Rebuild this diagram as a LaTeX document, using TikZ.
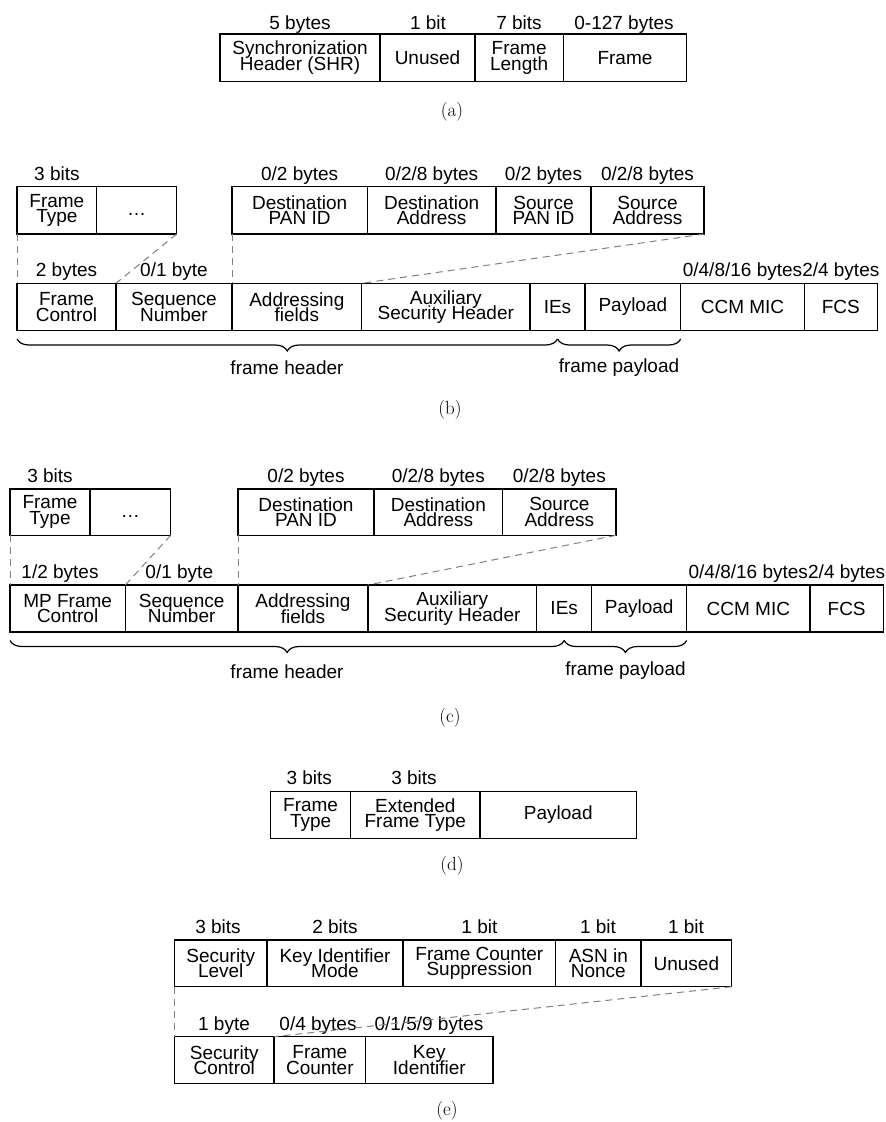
\documentclass[tikz,border=0pt]{standalone}
\usepackage{fontspec}
\newfontfamily\hv{Liberation Sans}
\usetikzlibrary{decorations.pathreplacing}
\newcommand{\tightlines}{\lineskiplimit=-40pt\relax\lineskip=0pt\relax}
\newcommand{\fieldnode}[6]{%
  \node[fld, minimum width={(#3-#2)*1pt}, minimum height={(#5-#4)*1pt}] (#1) at ({(#2+#3)/2},{(#4+#5)/2}) {#6};}
\begin{document}
\begin{tikzpicture}[x=1pt,y=-1pt,
  fld/.style={draw=black, line width=1.2pt, inner sep=0pt, outer sep=0pt, align=center, font=\hv\fontsize{19}{15.5}\selectfont\tightlines},
  lbl/.style={anchor=base, inner sep=0pt, font=\hv\fontsize{19}{15.5}\selectfont},
  zoomline/.style={draw=black!50, line width=1pt, dash pattern=on 7pt off 5pt},
  brc/.style={decorate, decoration={brace, mirror, amplitude=12pt}, line width=1.2pt},
  sub/.style={inner sep=0pt, font=\hv\fontsize{19}{15.5}\selectfont},
  capt/.style={inner sep=0pt, font=\fontsize{19}{22}\selectfont}]
\useasboundingbox (0,0) rectangle (886,1122);

% ---------------- (a)
\fieldnode{a1}{220}{380}{34}{81.5}{Synchronization\\Header (SHR)}
\fieldnode{a2}{380}{475}{34}{81.5}{Unused}
\fieldnode{a3}{475}{563.3}{34}{81.5}{Frame\\Length}
\fieldnode{a4}{563.3}{686.7}{34}{81.5}{Frame}
\node[lbl] (la1) at (300,29) {5 bytes};
\node[lbl] (la2) at (428,29) {1 bit};
\node[lbl] (la3) at (519,29) {7 bits};
\node[lbl] (la4) at (624,29) {0-127 bytes};
\node[capt] (capa) at (452,112) {(a)};

% ---------------- (b)
\fieldnode{bft}{17}{96.7}{186.7}{234}{Frame\\Type}
\fieldnode{bdots}{96.7}{176.7}{186.7}{234}{\vphantom{(}…}
\fieldnode{bdpan}{232}{367.3}{186.7}{234}{Destination\\PAN ID}
\fieldnode{bdadr}{367.3}{496}{186.7}{234}{Destination\\Address}
\fieldnode{bspan}{496}{591}{186.7}{234}{Source\\PAN ID}
\fieldnode{bsadr}{591}{704}{186.7}{234}{Source\\Address}
\node[lbl] (lb1) at (56.9,180.2) {3 bits};
\node[lbl] (lb2) at (299.7,180.2) {0/2 bytes};
\node[lbl] (lb3) at (431.7,180.2) {0/2/8 bytes};
\node[lbl] (lb4) at (543.5,180.2) {0/2 bytes};
\node[lbl] (lb5) at (647.5,180.2) {0/2/8 bytes};

\fieldnode{bfc}{17}{116}{283.3}{330.7}{Frame\\Control}
\fieldnode{bsn}{116}{232}{283.3}{330.7}{Sequence\\Number}
\fieldnode{baf}{232}{361.7}{283.3}{330.7}{Addressing\\fields}
\fieldnode{baux}{361.7}{530}{283.3}{330.7}{Auxiliary\\Security Header}
\fieldnode{bies}{530}{585}{283.3}{330.7}{IEs}
\fieldnode{bpl}{585}{680.7}{283.3}{330.7}{Payload}
\fieldnode{bmic}{680.7}{804.3}{283.3}{330.7}{CCM MIC}
\fieldnode{bfcs}{804.3}{877.3}{283.3}{330.7}{FCS}
\node[lbl] (lb6) at (66.5,276.8) {2 bytes};
\node[lbl] (lb7) at (174,276.8) {0/1 byte};
\node[lbl] (lb8) at (742.5,276.8) {0/4/8/16 bytes};
\node[lbl] (lb9) at (840.8,276.8) {2/4 bytes};

\draw[zoomline] (bft.south west) -- (bfc.north west);
\draw[zoomline] (bdots.south east) -- (bsn.north west);
\draw[zoomline] (bdpan.south west) -- (baf.north west);
\draw[zoomline] (bsadr.south east) -- (baux.north west);

\coordinate (bb1) at (17,339);
\coordinate (bb2) at (557.5,339);
\coordinate (bb3) at (680.7,339);
\draw[brc] (bb1) -- (bb2);
\draw[brc] (bb2) -- (bb3);
\node[sub] (bhdr) at (287,368) {frame header};
\node[sub] (bpay) at (619,368) {frame payload};
\node[capt] (capb) at (450,410) {(b)};

% ---------------- (c)
\fieldnode{cft}{10}{90}{489}{535.3}{Frame\\Type}
\fieldnode{cdots}{90}{170.7}{489}{535.3}{\vphantom{(}…}
\fieldnode{cdpan}{238}{374}{489}{535.3}{Destination\\PAN ID}
\fieldnode{cdadr}{374}{502.7}{489}{535.3}{Destination\\Address}
\fieldnode{csadr}{502.7}{616}{489}{535.3}{Source\\Address}
\node[lbl] (lc1) at (50,482.5) {3 bits};
\node[lbl] (lc2) at (306,482.5) {0/2 bytes};
\node[lbl] (lc3) at (438.3,482.5) {0/2/8 bytes};
\node[lbl] (lc4) at (559.3,482.5) {0/2/8 bytes};

\fieldnode{cfc}{10}{125.3}{585}{632}{MP Frame\\Control}
\fieldnode{csn}{125.3}{238}{585}{632}{Sequence\\Number}
\fieldnode{caf}{238}{368}{585}{632}{Addressing\\fields}
\fieldnode{caux}{368}{536.7}{585}{632}{Auxiliary\\Security Header}
\fieldnode{cies}{536.7}{591.7}{585}{632}{IEs}
\fieldnode{cpl}{591.7}{686.7}{585}{632}{Payload}
\fieldnode{cmic}{686.7}{810}{585}{632}{CCM MIC}
\fieldnode{cfcs}{810}{883.3}{585}{632}{FCS}
\node[lbl] (lc5) at (60,578.5) {1/2 bytes};
\node[lbl] (lc6) at (179.3,578.5) {0/1 byte};
\node[lbl] (lc7) at (748.3,578.5) {0/4/8/16 bytes};
\node[lbl] (lc8) at (846.7,578.5) {2/4 bytes};

\draw[zoomline] (cft.south west) -- (cfc.north west);
\draw[zoomline] (cdots.south east) -- (csn.north west);
\draw[zoomline] (cdpan.south west) -- (caf.north west);
\draw[zoomline] (csadr.south east) -- (caux.north west);

\coordinate (cb1) at (10,640.5);
\coordinate (cb2) at (564.2,640.5);
\coordinate (cb3) at (686.7,640.5);
\draw[brc] (cb1) -- (cb2);
\draw[brc] (cb2) -- (cb3);
\node[sub] (chdr) at (287,671.5) {frame header};
\node[sub] (cpay) at (625.5,671) {frame payload};
\node[capt] (capc) at (450,718) {(c)};

% ---------------- (d)
\fieldnode{dft}{270.7}{350.5}{791.5}{838.3}{Frame\\Type}
\fieldnode{deft}{350.5}{480}{791.5}{838.3}{Extended\\Frame Type}
\fieldnode{dpl}{480}{636.5}{791.5}{838.3}{Payload}
\node[lbl] (ld1) at (309.3,784) {3 bits};
\node[lbl] (ld2) at (414,784) {3 bits};
\node[capt] (capd) at (452,866) {(d)};

% ---------------- (e)
\fieldnode{esl}{174.5}{267}{940}{986.7}{Security\\Level}
\fieldnode{ekim}{267}{403}{940}{986.7}{Key Identifier\\Mode}
\fieldnode{efcs}{403}{555.7}{940}{986.7}{Frame Counter\\Suppression}
\fieldnode{easn}{555.7}{641}{940}{986.7}{ASN in\\Nonce}
\fieldnode{eun}{641}{731.7}{940}{986.7}{Unused}
\node[lbl] (le1) at (218,933.5) {3 bits};
\node[lbl] (le2) at (335,933.5) {2 bits};
\node[lbl] (le3) at (479.4,933.5) {1 bit};
\node[lbl] (le4) at (598,933.5) {1 bit};
\node[lbl] (le5) at (686,933.5) {1 bit};

\fieldnode{esc}{174.5}{274}{1036.7}{1083.3}{Security\\Control}
\fieldnode{efc}{274}{365.7}{1036.7}{1083.3}{Frame\\Counter}
\fieldnode{eki}{365.7}{493}{1036.7}{1083.3}{Key\\Identifier}
\node[lbl] (le6) at (224,1030) {1 byte};
\node[lbl] (le7) at (318,1030) {0/4 bytes};
\node[lbl] (le8) at (429,1030) {0/1/5/9 bytes};

\draw[zoomline] (esl.south west) -- (esc.north west);
\draw[zoomline] (eun.south east) -- (efc.north west);
\node[capt] (cape) at (447,1111) {(e)};
\end{tikzpicture}
\end{document}
